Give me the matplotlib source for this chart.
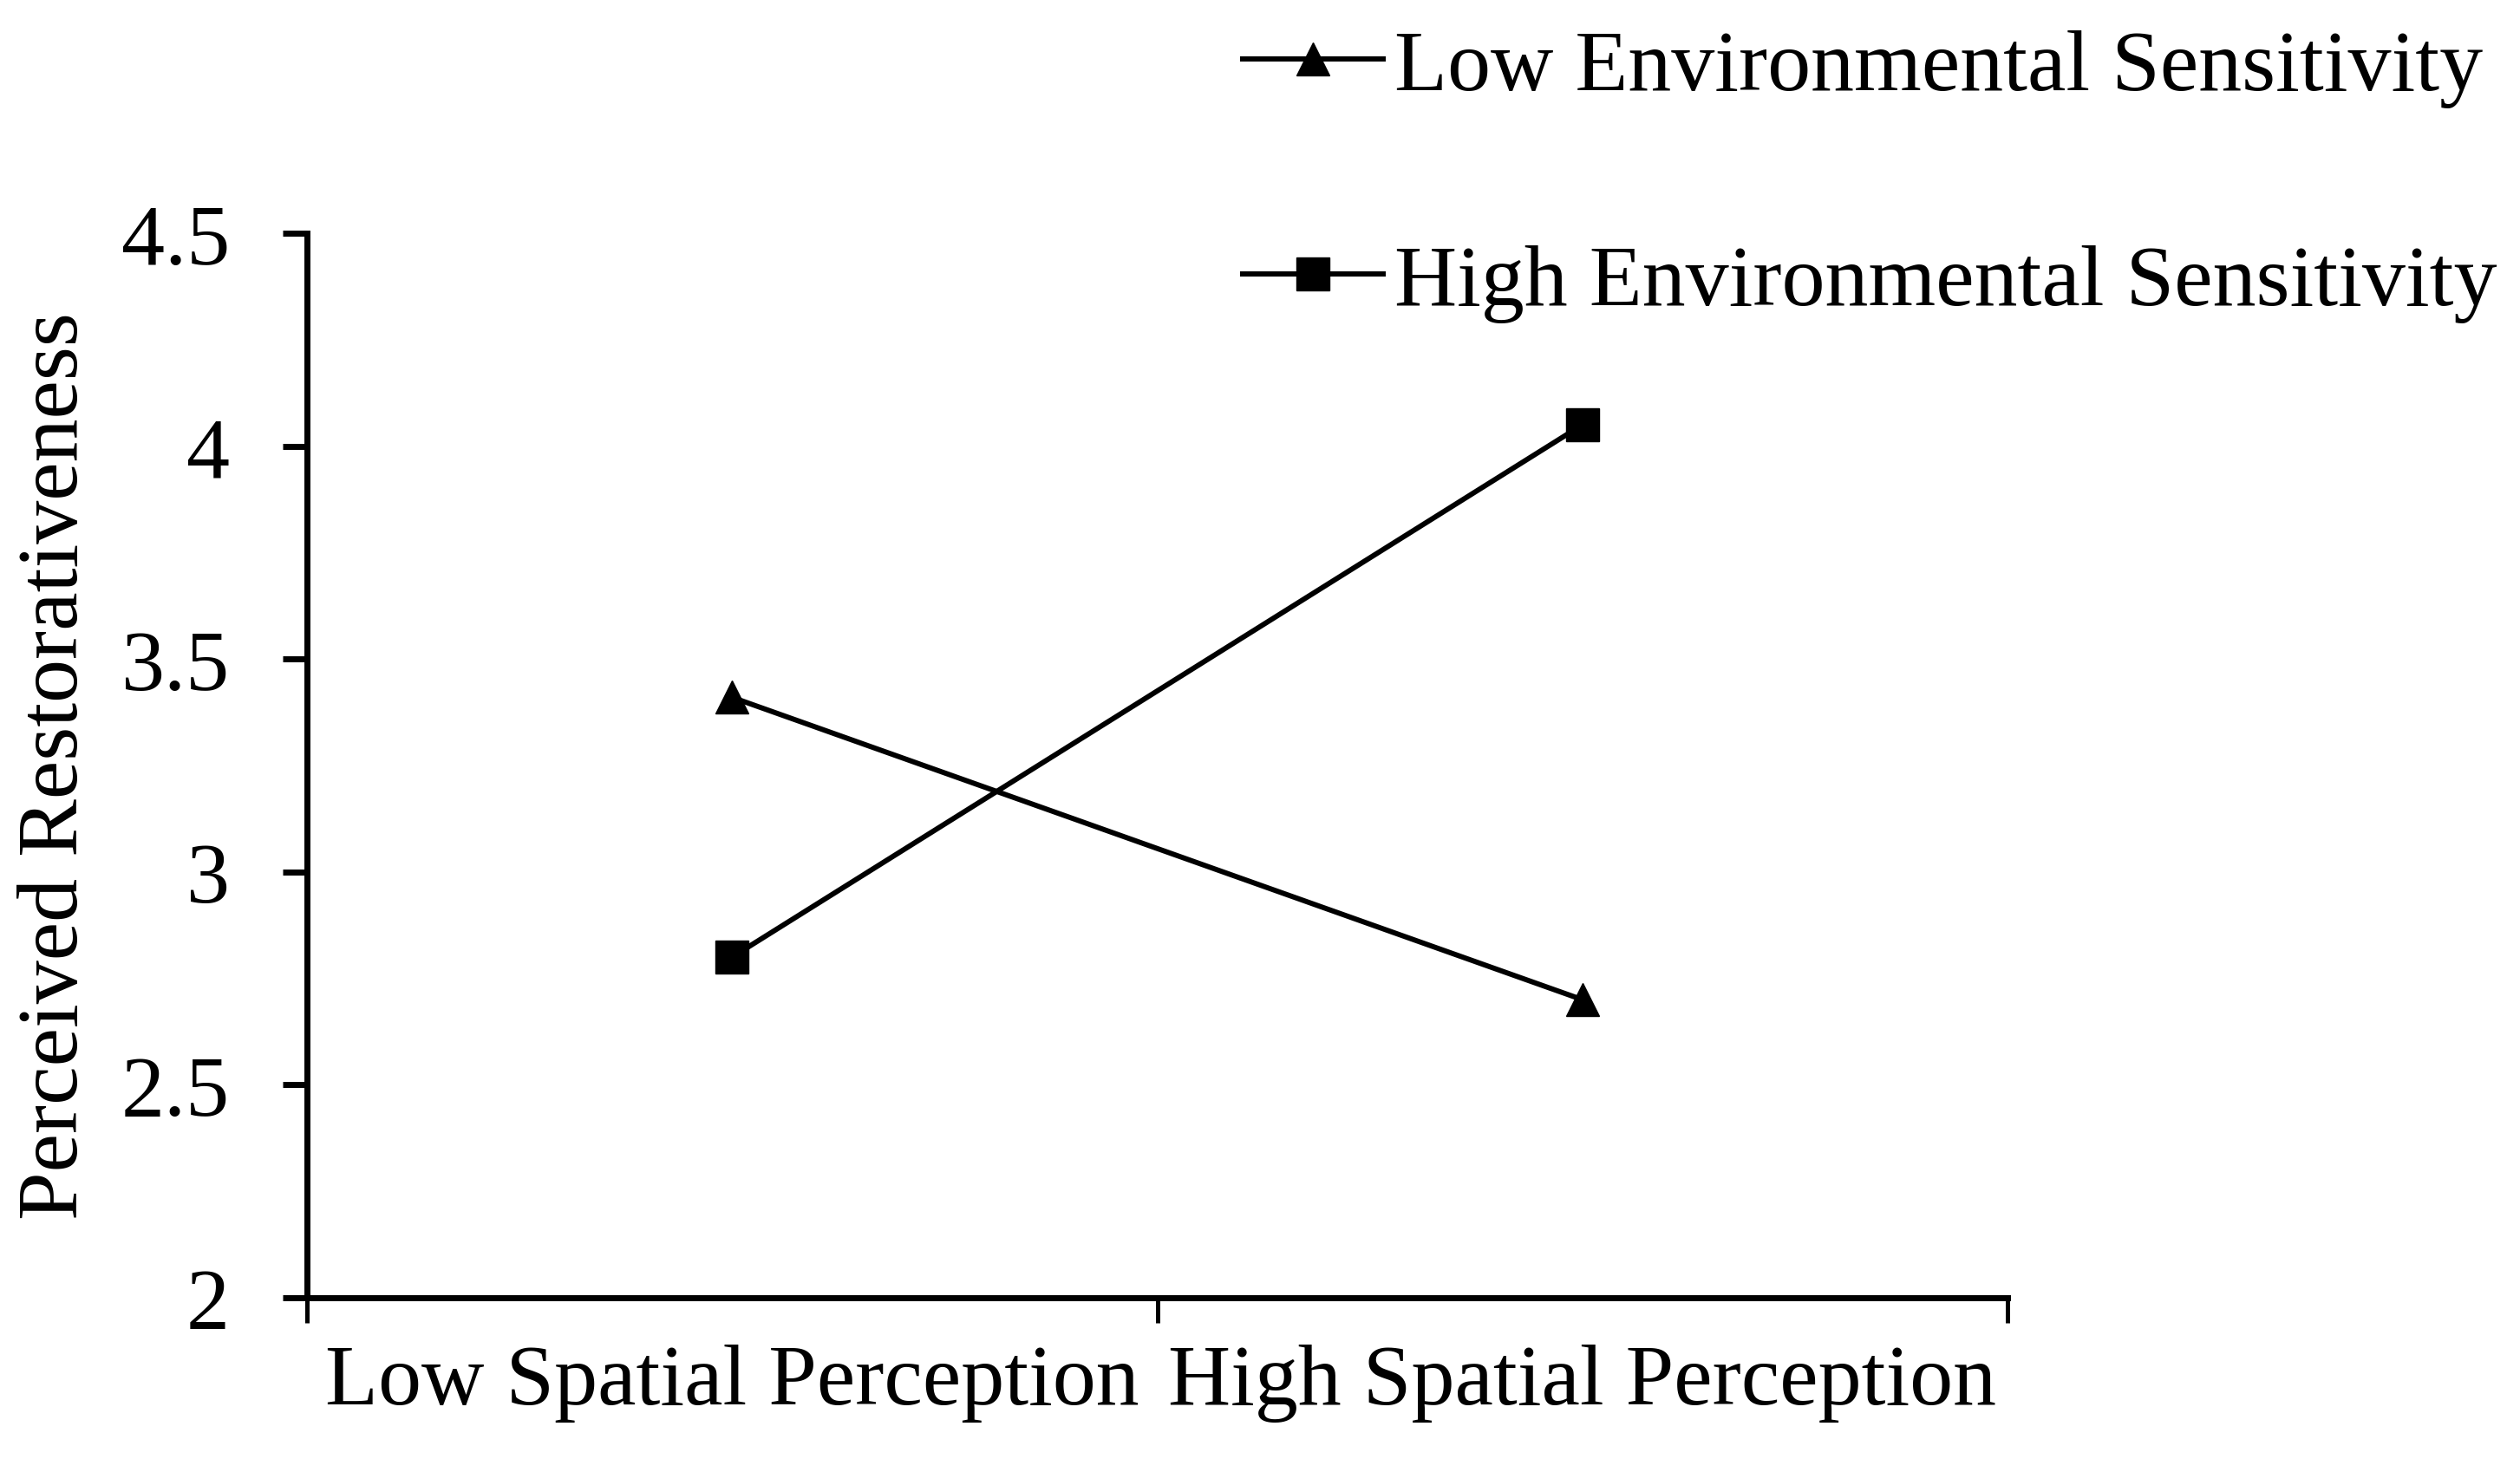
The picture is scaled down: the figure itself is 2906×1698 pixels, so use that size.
import matplotlib.pyplot as plt

# 交互作用图数据
categories = ['Low Spatial Perception', 'High Spatial Perception']
low_env = [3.41, 2.70]
high_env = [2.80, 4.05]
series_names = ['Low Environmental Sensitivity', 'High Environmental Sensitivity']
yticks = [2, 2.5, 3, 3.5, 4, 4.5]
ytick_labels = ['2', '2.5', '3', '3.5', '4', '4.5']

plt.rcParams['font.family'] = ['Liberation Serif', 'DejaVu Serif']

fig = plt.figure(figsize=(29.06, 16.99), dpi=100)
ax = fig.add_axes([354 / 2906, 1 - 1498 / 1699, (2315 - 354) / 2906, (1498 - 270) / 1699])

x = [1, 2]
ax.plot(x, low_env, color='black', lw=4.3, marker='^', markersize=28,
        label=series_names[0])
ax.plot(x, high_env, color='black', lw=4.3, marker='s', markersize=28,
        label=series_names[1])

# 坐标轴
ax.set_xlim(0.5, 2.5)
ax.set_ylim(2, 4.5)
ax.set_xticks([0.5, 1.5, 2.5])
ax.set_xticklabels([])
ax.set_xticks(x, minor=True)
ax.set_xticklabels(categories, minor=True, fontsize=72)
ax.tick_params(axis='x', which='minor', length=0, pad=38)
ax.tick_params(axis='x', which='major', length=21, width=3.6, direction='out')
ax.set_yticks(yticks)
ax.set_yticklabels(ytick_labels, fontsize=72)
ax.tick_params(axis='y', length=20, width=5, direction='out', pad=44)

for side in ['top', 'right']:
    ax.spines[side].set_visible(False)
for side in ['left', 'bottom']:
    ax.spines[side].set_linewidth(5)

ax.set_ylabel('Perceived Restorativeness', fontsize=72)
ax.yaxis.set_label_coords(65 / 2906, 1 - 884 / 1699, transform=fig.transFigure)
ax.yaxis.label.set_verticalalignment('center')

fig.legend(loc='upper left', bbox_to_anchor=(1433 / 2906, 1 - 34 / 1699),
           frameon=False, fontsize=72, handlelength=1.62, handletextpad=0.13,
           labelspacing=1.57, borderpad=0, borderaxespad=0)

plt.savefig('out.png', dpi=100)
